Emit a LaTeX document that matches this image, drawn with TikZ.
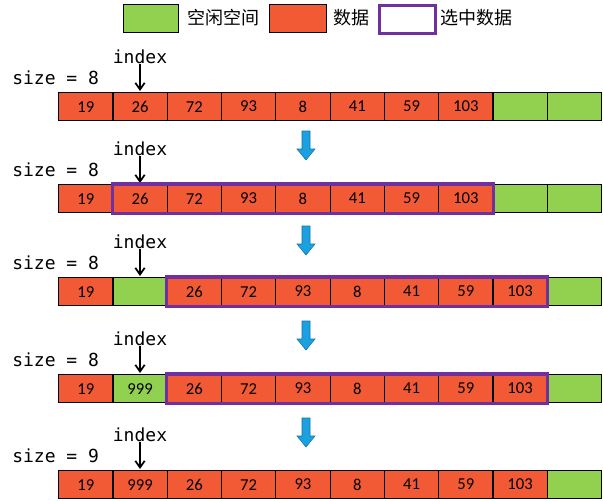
\documentclass[tikz,border=0pt]{standalone}
\usetikzlibrary{arrows.meta}
\usepackage{fontspec}
\setmainfont{Carlito}
\setmonofont{DejaVu Sans Mono}
\newfontfamily\cjk{Noto Sans CJK SC}
\definecolor{dat}{HTML}{F15A35}
\definecolor{fre}{HTML}{92D050}
\definecolor{sel}{HTML}{7030A0}
\definecolor{blu}{HTML}{1BA1E2}
\begin{document}
\begin{tikzpicture}[x=0.75pt,y=-0.75pt,
 cell/.style={draw=black,line width=0.9pt,minimum width=54.3*0.75pt,minimum height=28*0.75pt,inner sep=0,font=\fontsize{12.5}{12.5}\selectfont,anchor=north west},
 d/.style={cell,fill=dat},f/.style={cell,fill=fre},
 selbox/.style={draw=sel,line width=2.3pt},
 lbl/.style={font=\ttfamily\fontsize{13.5}{13.5}\selectfont,inner sep=0},
 leg/.style={anchor=west,font=\cjk\fontsize{13.5}{13.5}\selectfont,inner sep=0},
 idx/.style={-{Straight Barb[length=5pt,width=7pt]},line width=1.3pt},
 down/.style={fill=blu,draw=blu!70!black,line width=0.4pt}]
\useasboundingbox (0,0) rectangle (603,500);
% legend
\node[f,minimum width=55*0.75pt,minimum height=28*0.75pt] (lg) at (123,4) {};
\node[leg] (lgt) at (187,18) {空闲空间};
\node[d,minimum width=57*0.75pt,minimum height=28*0.75pt] (lr) at (269,4) {};
\node[leg] (lrt) at (333,18) {数据};
\node[cell,draw=sel,line width=2.3pt,minimum width=56*0.75pt,minimum height=28*0.75pt] (lp) at (378,4) {};
\node[leg] (lpt) at (440,18) {选中数据};
\def\row#1#2#3#4{% name, top y, size, contents
 \node[lbl,anchor=west] (s#1) at (12,#2-14) {size = #3};
 \node[lbl] (i#1) at (140,#2-35) {index};
 \coordinate (a#1) at (140,#2-1);
 \draw[idx] (i#1.south) -- (a#1);
 \foreach \t/\s [count=\k from 0] in {#4} {\node[\s] (c#1\k) at (58+54.3*\k,#2) {\t};}
}
\row{1}{92}{8}{19/d,26/d,72/d,93/d,8/d,41/d,59/d,103/d,/f,/f}
\row{2}{184}{8}{19/d,26/d,72/d,93/d,8/d,41/d,59/d,103/d,/f,/f}
\row{3}{277}{8}{19/d,/f,26/d,72/d,93/d,8/d,41/d,59/d,103/d,/f}
\row{4}{374}{8}{19/d,999/f,26/d,72/d,93/d,8/d,41/d,59/d,103/d,/f}
\row{5}{470}{9}{19/d,999/d,26/d,72/d,93/d,8/d,41/d,59/d,103/d,/f}
\draw[selbox] (c21.north west) rectangle (c27.south east);
\draw[selbox] (c32.north west) rectangle (c38.south east);
\draw[selbox] (c42.north west) rectangle (c48.south east);
\foreach \y in {131,226,321,418}{
 \draw[down] (302,\y) -- (310,\y) -- (310,\y+18) -- (315,\y+18) -- (306,\y+29) -- (297,\y+18) -- (302,\y+18) -- cycle;}
\end{tikzpicture}
\end{document}
